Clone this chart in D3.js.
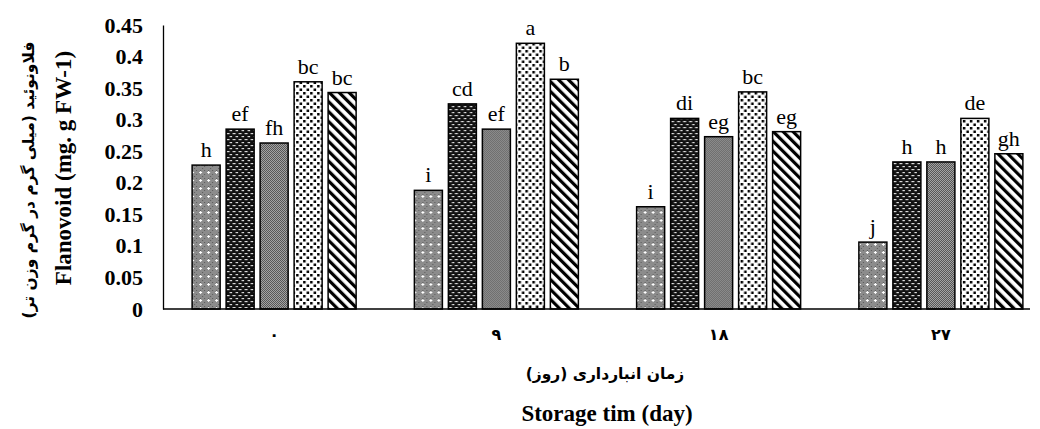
<!DOCTYPE html>
<html>
<head>
<meta charset="utf-8">
<script src="https://cdn.jsdelivr.net/npm/d3@7"></script>
<style>
  body { margin: 0; background: #fff; }
  svg { display: block; }
</style>
</head>
<body>
<div id="chart"></div>
<script>
// data
var days = ["۰", "۹", "۱۸", "۲۷"];
var series = ["T1", "T2", "T3", "T4", "T5"];
var t1 = [0.228, 0.188, 0.162, 0.106];
var t2 = [0.285, 0.325, 0.302, 0.233];
var t3 = [0.263, 0.285, 0.273, 0.233];
var t4 = [0.360, 0.421, 0.344, 0.302];
var t5 = [0.343, 0.364, 0.281, 0.246];
var letters = [
  ["h", "ef", "fh", "bc", "bc"],
  ["i", "cd", "ef", "a", "b"],
  ["i", "di", "eg", "bc", "eg"],
  ["j", "h", "h", "de", "gh"]
];
var yTicks = [0, 0.05, 0.1, 0.15, 0.2, 0.25, 0.3, 0.35, 0.4, 0.45];
var yTickLabels = ["0", "0.05", "0.1", "0.15", "0.2", "0.25", "0.3", "0.35", "0.4", "0.45"];

var values = [t1, t2, t3, t4, t5];

// 1: dimensions
var W = 1040, H = 429;
var margin = {top: 25, left: 163, bottom: 120};
var plotBottom = H - margin.bottom; // 309
var lineEnd = 1030;

var svg = d3.select("#chart").append("svg")
    .attr("width", W)
    .attr("height", H);

// 2: patterns
var defs = svg.append("defs");

// series 1: fine grey with white crosses
var p1 = defs.append("pattern").attr("id", "p1")
    .attr("patternUnits", "userSpaceOnUse").attr("width", 8).attr("height", 8);
p1.append("rect").attr("width", 8).attr("height", 8).attr("fill", "#8c8c8c");
p1.append("rect").attr("x", 0).attr("y", 0).attr("width", 1).attr("height", 1).attr("fill", "#5a5a5a");
p1.append("rect").attr("x", 2).attr("y", 2).attr("width", 1).attr("height", 1).attr("fill", "#5a5a5a");
p1.append("rect").attr("x", 6).attr("y", 2).attr("width", 1).attr("height", 1).attr("fill", "#5a5a5a");
p1.append("rect").attr("x", 2).attr("y", 6).attr("width", 1).attr("height", 1).attr("fill", "#5a5a5a");
p1.append("rect").attr("x", 5).attr("y", 4).attr("width", 3).attr("height", 1).attr("fill", "#fff");
p1.append("rect").attr("x", 6).attr("y", 3).attr("width", 1).attr("height", 3).attr("fill", "#fff");

// series 2: black with white dashes
var p2 = defs.append("pattern").attr("id", "p2")
    .attr("patternUnits", "userSpaceOnUse").attr("width", 6).attr("height", 6);
p2.append("rect").attr("width", 6).attr("height", 6).attr("fill", "#111");
p2.append("rect").attr("x", 0.5).attr("y", 1).attr("width", 3).attr("height", 1.2).attr("fill", "#ddd");
p2.append("rect").attr("x", 3.5).attr("y", 4).attr("width", 3).attr("height", 1.2).attr("fill", "#ddd");

// series 3: medium grey checker
var p3 = defs.append("pattern").attr("id", "p3")
    .attr("patternUnits", "userSpaceOnUse").attr("width", 2).attr("height", 2);
p3.append("rect").attr("width", 2).attr("height", 2).attr("fill", "#b0b0b0");
p3.append("rect").attr("width", 1).attr("height", 1).attr("fill", "#4a4a4a");
p3.append("rect").attr("x", 1).attr("y", 1).attr("width", 1).attr("height", 1).attr("fill", "#4a4a4a");

// series 4: white with black squares
var p4 = defs.append("pattern").attr("id", "p4")
    .attr("patternUnits", "userSpaceOnUse").attr("width", 7).attr("height", 7);
p4.append("rect").attr("width", 7).attr("height", 7).attr("fill", "#fff");
p4.append("rect").attr("x", 1).attr("y", 1).attr("width", 2.5).attr("height", 2.5).attr("fill", "#000");
p4.append("rect").attr("x", 4.5).attr("y", 4.5).attr("width", 2.5).attr("height", 2.5).attr("fill", "#000");

// series 5: thick diagonal stripes
var p5 = defs.append("pattern").attr("id", "p5")
    .attr("patternUnits", "userSpaceOnUse").attr("width", 7).attr("height", 7)
    .attr("patternTransform", "rotate(-45)");
p5.append("rect").attr("width", 7).attr("height", 7).attr("fill", "#fff");
p5.append("rect").attr("width", 3.2).attr("height", 7).attr("fill", "#000");

var fills = ["url(#p1)", "url(#p2)", "url(#p3)", "url(#p4)", "url(#p5)"];

// 3: scales
var x0 = d3.scaleBand()
    .domain(days)
    .range([margin.left, 1052]);
var x1 = d3.scaleBand()
    .domain(series)
    .range([-82, 82])
    .paddingInner(0.176);
var y = d3.scaleLinear()
    .domain([0, 0.45])
    .range([plotBottom, margin.top]);

// 4: axes
var yAxis = d3.axisLeft(y)
    .tickValues(yTicks)
    .tickFormat(function(d, i) { return yTickLabels[i]; })
    .tickSize(0)
    .tickPadding(20);
var yG = svg.append("g")
    .attr("transform", "translate(" + margin.left + ",0)")
    .call(yAxis);
yG.select(".domain").attr("stroke", "#000").attr("stroke-width", 1.3);
yG.selectAll("text")
    .attr("font-family", "'Liberation Serif', 'Times New Roman', serif")
    .attr("font-weight", "bold")
    .attr("font-size", 22)
    .attr("fill", "#000");

// bars
var groups = svg.selectAll("g.day")
    .data(days)
  .enter().append("g")
    .attr("class", "day")
    .attr("transform", function(d) { return "translate(" + (x0(d) + x0.bandwidth() / 2) + ",0)"; });

groups.selectAll("rect")
    .data(function(d, gi) {
      return series.map(function(s, si) {
        return {s: s, si: si, v: values[si][gi], l: letters[gi][si]};
      });
    })
  .enter().append("rect")
    .attr("x", function(d) { return x1(d.s); })
    .attr("y", function(d) { return y(d.v); })
    .attr("width", x1.bandwidth())
    .attr("height", function(d) { return y(0) - y(d.v); })
    .attr("fill", function(d) { return fills[d.si]; })
    .attr("stroke", "#000")
    .attr("stroke-width", 1.5);

groups.selectAll("text.lbl")
    .data(function(d, gi) {
      return series.map(function(s, si) {
        return {s: s, si: si, v: values[si][gi], l: letters[gi][si]};
      });
    })
  .enter().append("text")
    .attr("class", "lbl")
    .attr("x", function(d) { return x1(d.s) + x1.bandwidth() / 2; })
    .attr("y", function(d) { return y(d.v) - 8; })
    .attr("text-anchor", "middle")
    .attr("font-family", "'Liberation Serif', 'Times New Roman', serif")
    .attr("font-size", 22)
    .attr("fill", "#000")
    .text(function(d) { return d.l; });

// x axis
var xAxis = d3.axisBottom(x0)
    .tickSize(0)
    .tickPadding(20);
var xG = svg.append("g")
    .attr("transform", "translate(0," + plotBottom + ")")
    .call(xAxis);
xG.select(".domain")
    .attr("d", "M" + margin.left + ",0H" + lineEnd)
    .attr("stroke", "#000").attr("stroke-width", 1.3);
xG.selectAll("text")
    .attr("font-family", "'DejaVu Sans', sans-serif")
    .attr("font-weight", "bold")
    .attr("font-size", 16)
    .attr("fill", "#000");

// titles
svg.append("text")
    .attr("x", 605).attr("y", 379)
    .attr("text-anchor", "middle")
    .attr("direction", "rtl")
    .attr("font-family", "'DejaVu Sans', sans-serif")
    .attr("font-weight", "bold")
    .attr("font-size", 15.5)
    .text("زمان انبارداری (روز)");

svg.append("text")
    .attr("x", 607).attr("y", 421)
    .attr("text-anchor", "middle")
    .attr("font-family", "'Liberation Serif', 'Times New Roman', serif")
    .attr("font-weight", "bold")
    .attr("font-size", 23)
    .text("Storage tim (day)");

svg.append("text")
    .attr("transform", "translate(71,168) rotate(-90)")
    .attr("text-anchor", "middle")
    .attr("font-family", "'Liberation Serif', 'Times New Roman', serif")
    .attr("font-weight", "bold")
    .attr("font-size", 23)
    .text("Flanovoid (mg. g FW-1)");

svg.append("text")
    .attr("transform", "translate(34,180) rotate(-90)")
    .attr("text-anchor", "middle")
    .attr("direction", "rtl")
    .attr("font-family", "'DejaVu Sans', sans-serif")
    .attr("font-weight", "bold")
    .attr("font-size", 15.5)
    .text("فلاونوئید (میلی گرم در گرم وزن تر)");
</script>
</body>
</html>
